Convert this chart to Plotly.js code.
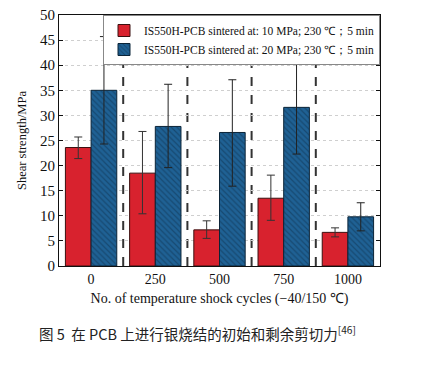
<!DOCTYPE html>
<html><head><meta charset="utf-8">
<script src="https://cdn.plot.ly/plotly-3.0.1.min.js"></script>
<style>html,body{margin:0;padding:0;background:#fff;}#chart{width:428px;height:372px;}</style>
</head><body><div id="chart"></div>
<script>
const categories = ["0", "250", "500", "750", "1000"];
const series10Name = "IS550H-PCB sintered at: 10 MPa; 230 ℃；5 min";
const series20Name = "IS550H-PCB sintered at: 20 MPa; 230 ℃；5 min";
const series10 = [23.6, 18.5, 7.2, 13.5, 6.7];
const series10ErrUp = [2.1, 8.3, 1.8, 4.6, 0.9];
const series10ErrDown = [2.2, 8.1, 1.7, 4.4, 0.9];
const series20 = [35.0, 27.8, 26.6, 31.6, 9.8];
const series20ErrUp = [10.7, 8.4, 10.5, 9.7, 2.8];
const series20ErrDown = [10.7, 8.2, 10.7, 9.3, 2.8];
const xTitle = "No. of temperature shock cycles (−40/150 ℃)";
const yTitle = "Shear strength/MPa";
const caption = "图 5  在 PCB 上进行银烧结的初始和剩余剪切力<sup>[46]</sup>";

const font = "Liberation Serif, Times New Roman, serif";
const traces = [
  {type:"bar", x:categories, y:series10, name:series10Name,
   marker:{color:"#d8222e", line:{color:"#3a1010", width:1}},
   error_y:{type:"data", symmetric:false, array:series10ErrUp, arrayminus:series10ErrDown, color:"#333", thickness:1, width:4}},
  {type:"bar", x:categories, y:series20, name:series20Name,
   marker:{color:"#1d5f90", line:{color:"#0b2438", width:1},
     pattern:{shape:"\\", bgcolor:"#1f6194", fgcolor:"#174a72", size:4, solidity:0.3}},
   error_y:{type:"data", symmetric:false, array:series20ErrUp, arrayminus:series20ErrDown, color:"#222", thickness:1, width:4}}
];
const shapes = [];
for (let i = 0; i < categories.length - 1; i++) {
  shapes.push({type:"line", xref:"x", yref:"paper", x0:i+0.5, x1:i+0.5, y0:0, y1:1,
    line:{color:"#333", width:2, dash:"dash"}, layer:"below"});
}
const layout = {
  width:428, height:372,
  margin:{l:59, r:48, t:15, b:106},
  paper_bgcolor:"#fff", plot_bgcolor:"#fff",
  barmode:"group", bargap:0.2, bargroupgap:0,
  font:{family:font, color:"#111", size:14},
  showlegend:true,
  legend:{x:1, xanchor:"right", y:1, yanchor:"top", bgcolor:"#fff",
    bordercolor:"#888", borderwidth:1, font:{family:font, size:11.5},
    tracegroupgap:0, itemwidth:30},
  xaxis:{type:"category", range:[-0.5, 4.5], showline:true, mirror:true, linecolor:"#111", linewidth:1,
    ticks:"", tickfont:{family:font, size:14},
    title:{text:xTitle, font:{family:font, size:14}, standoff:7}},
  yaxis:{range:[0, 50], dtick:5, showline:true, mirror:"ticks", linecolor:"#111", linewidth:1,
    ticks:"inside", ticklen:4, tickcolor:"#111",
    showgrid:true, gridcolor:"#cfcfcf", griddash:"dot", gridwidth:1,
    tickfont:{family:font, size:15},
    title:{text:yTitle, font:{family:font, size:12.5}, standoff:10}},
  shapes:shapes,
  annotations:[{xref:"paper", yref:"paper", x:-0.07, y:-0.265, xanchor:"left", yanchor:"middle",
    text:caption, showarrow:false, font:{family:"Noto Sans CJK SC, serif", size:14.5, color:"#222"}}]
};
Plotly.newPlot("chart", traces, layout, {displayModeBar:false, staticPlot:true});
</script></body></html>
